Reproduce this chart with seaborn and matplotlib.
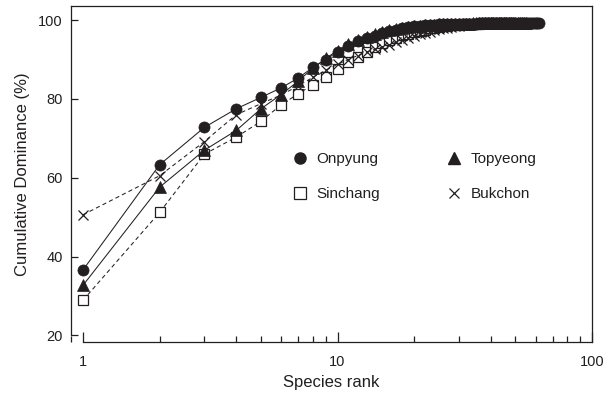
import matplotlib
matplotlib.use("Agg")
import matplotlib.pyplot as plt
import seaborn as sns
import pandas as pd
from matplotlib.lines import Line2D

sns.set_theme(style="white")
plt.rcParams['font.family'] = ['Liberation Sans', 'DejaVu Sans']

INK = '#231f20'

onpyung = [36.6, 63.3, 72.8, 77.5, 80.4, 82.8, 85.3, 88.0, 90.0, 92.0,
           93.5, 94.6, 95.4, 96.1, 96.7, 97.2, 97.6, 97.9, 98.2, 98.4,
           98.55, 98.7, 98.8, 98.9, 98.95, 99.0, 99.0, 99.05, 99.05, 99.1,
           99.1, 99.1, 99.15, 99.15, 99.15, 99.2, 99.2, 99.2, 99.2, 99.25,
           99.25, 99.25, 99.25, 99.3, 99.3, 99.3, 99.3, 99.3, 99.35, 99.35,
           99.35, 99.35, 99.35, 99.4, 99.4, 99.4, 99.4, 99.4, 99.4, 99.4,
           99.4, 99.4]
topyeong = [32.7, 57.6, 67.0, 72.0, 77.5, 81.1, 84.5, 87.8, 90.3, 92.3,
            93.9, 95.0, 95.8, 96.5, 97.0, 97.4, 97.7, 98.0, 98.2, 98.4,
            98.55, 98.7, 98.8, 98.9, 98.95, 99.0, 99.0, 99.05, 99.1, 99.1,
            99.1, 99.15, 99.15, 99.2, 99.2, 99.2, 99.25, 99.25, 99.25, 99.3,
            99.3, 99.3, 99.3, 99.35, 99.35, 99.35, 99.35, 99.4, 99.4, 99.4,
            99.4, 99.4, 99.4, 99.4, 99.4]
sinchang = [28.9, 51.2, 66.0, 70.3, 74.3, 78.5, 81.3, 83.6, 85.6, 87.6,
            89.3, 90.6, 91.9, 93.1, 94.1, 94.9, 95.6, 96.2, 96.6, 97.0,
            97.3, 97.6, 97.9, 98.1, 98.3, 98.45, 98.6, 98.7, 98.8, 98.9,
            98.95, 99.0, 99.05, 99.1, 99.1, 99.15, 99.2, 99.2, 99.25, 99.25,
            99.3, 99.3, 99.35, 99.35, 99.4, 99.4, 99.4, 99.4]
bukchon = [50.6, 60.5, 69.2, 76.0, 78.8, 81.0, 83.3, 85.5, 87.3, 88.8,
           90.0, 91.0, 91.9, 92.6, 93.2, 93.8, 94.4, 95.0, 95.5, 96.0,
           96.4, 96.8, 97.1, 97.4, 97.7, 97.9, 98.1, 98.3, 98.45, 98.6,
           98.7, 98.8, 98.9, 98.95, 99.0, 99.05, 99.1, 99.15, 99.2, 99.2,
           99.25, 99.25, 99.3, 99.3, 99.35, 99.35, 99.35, 99.4, 99.4, 99.4,
           99.4, 99.4]

series = [
    ("Sinchang", sinchang, dict(marker='s', markersize=7.2, markerfacecolor='white',
                                markeredgecolor=INK, markeredgewidth=0.9, linestyle=(0, (4, 3)))),
    ("Bukchon", bukchon, dict(marker='x', markersize=6.5, markerfacecolor=INK,
                              markeredgecolor=INK, markeredgewidth=0.9, linestyle=(0, (4, 3)))),
    ("Topyeong", topyeong, dict(marker='^', markersize=8.0, markerfacecolor=INK,
                                markeredgecolor=INK, markeredgewidth=0.5, linestyle='-')),
    ("Onpyung", onpyung, dict(marker='o', markersize=8.0, markerfacecolor=INK,
                              markeredgecolor=INK, markeredgewidth=0.5, linestyle='-')),
]

fig = plt.figure(figsize=(6.08, 3.99), dpi=100)
ax = fig.add_axes([71/608, 1-342/399, (592-71)/608, (342-6)/399])

for name, vals, kw in series:
    df = pd.DataFrame({"rank": list(range(1, len(vals)+1)), "dom": vals})
    sns.lineplot(data=df, x="rank", y="dom", ax=ax, color=INK, linewidth=0.75,
                 estimator=None, sort=False, legend=False, **kw)

ax.set_xscale('log')
ax.set_xlim(0.897, 100)
ax.set_ylim(18.3, 103.6)
ax.set_yticks([20, 40, 60, 80, 100])
ax.set_xticks([1, 10, 100])
ax.set_xticklabels(['1', '10', '100'])
ax.set_yticklabels(['20', '40', '60', '80', '100'])

for s in ax.spines.values():
    s.set_color(INK)
    s.set_linewidth(0.9)
    s.set_visible(True)
ax.spines['left'].set_bounds(20, 103.6)
ax.spines['bottom'].set_bounds(1, 100)

ax.tick_params(axis='both', which='major', direction='in', length=5, width=0.9,
               color=INK, labelsize=10.5, labelcolor=INK, pad=6)
ax.tick_params(axis='x', which='minor', direction='in', length=4, width=0.9, color=INK)
ax.tick_params(axis='x', which='major', length=7, pad=9)
ax.tick_params(left=True, bottom=True, which='both')
ax.grid(False)

ax.set_xlabel('Species rank', fontsize=12, color=INK, labelpad=5)
ax.set_ylabel('Cumulative Dominance (%)', fontsize=12, color=INK, labelpad=6)

handles = [
    Line2D([], [], linestyle='none', marker='o', markersize=8, color=INK),
    Line2D([], [], linestyle='none', marker='s', markersize=8, markerfacecolor='white',
           markeredgecolor=INK, markeredgewidth=0.9),
    Line2D([], [], linestyle='none', marker='^', markersize=8, color=INK),
    Line2D([], [], linestyle='none', marker='x', markersize=7, color=INK, markeredgewidth=0.9),
]
labels = ['Onpyung', 'Sinchang', 'Topyeong', 'Bukchon']
leg = ax.legend(handles, labels, ncol=2, frameon=False, loc='upper left',
                bbox_to_anchor=(292/608, 1-152/399), bbox_transform=fig.transFigure,
                borderaxespad=0, borderpad=0, fontsize=11, handlelength=1.0,
                handletextpad=0.6, labelspacing=1.4, columnspacing=4.35)
for t in leg.get_texts():
    t.set_color(INK)

fig.savefig('out.png', dpi=100)
